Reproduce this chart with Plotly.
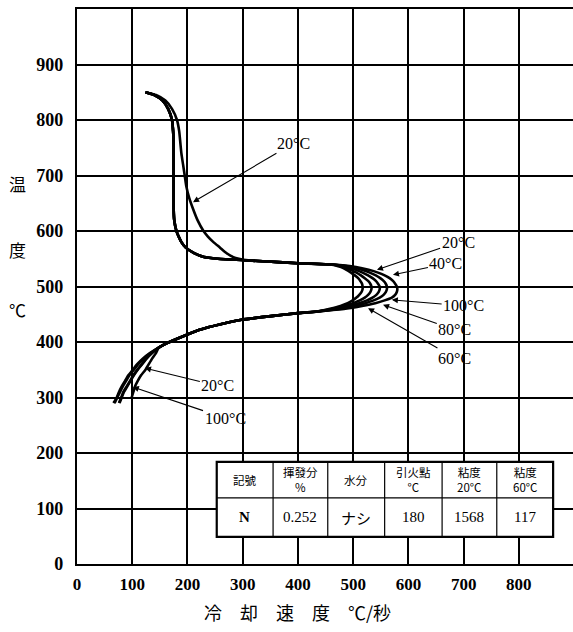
import plotly.graph_objects as go

# Cooling curves of a quenching oil at several bath temperatures.
# Each curve is traced as (temperature, cooling rate) pairs, temperature falling.

# Section 1: from 850 °C down to the break of the vapour film
upper_temp = [850, 845, 835, 820, 800, 780, 760, 740, 720, 700, 680, 660, 640,
              620, 600, 590, 580, 570, 560, 553, 550]
upper_rate_20 = [124, 143, 160, 172, 181, 185, 187, 189, 192, 195, 198, 203, 210,
                 218, 229, 237, 247, 259, 271, 283, 293]
upper_rate_hot = [124, 140, 155, 165, 172, 174, 175, 175, 175, 175, 175, 175, 175,
                  176, 180, 184, 189, 197, 212, 230, 255]

# Section 2: common run into the boiling stage
band_temp = [547, 545, 542, 540]
band_rate = [310, 345, 400, 450]

# Section 3: maximum cooling rate ("nose")
nose_temp = [538, 535, 530, 525, 520, 515, 510, 505, 500, 495, 490, 485, 480,
             475, 470, 465, 460]
nose_rate_20 = [468, 478, 488, 496, 503, 509, 513, 516, 517, 517, 515, 511, 506,
                499, 490, 477, 458]
nose_rate_40 = [472, 484, 496, 506, 514, 521, 527, 531, 533, 533, 531, 527, 521,
                512, 500, 484, 464]
nose_rate_60 = [475, 490, 505, 517, 527, 535, 541, 545, 548, 548, 546, 542, 535,
                525, 511, 493, 470]
nose_rate_80 = [478, 497, 516, 530, 541, 549, 555, 559, 561, 561, 559, 555, 548,
                537, 522, 503, 478]
nose_rate_100 = [481, 505, 528, 545, 557, 566, 572, 576, 579, 580, 579, 576, 570,
                 557, 540, 516, 486]

# Section 4: common falling branch
lower_temp = [455, 452, 447, 440, 432, 422, 413, 398, 390]
lower_rate = [435, 400, 355, 298, 260, 222, 199, 163, 148]

# Section 5: convection stage
tail_temp = [380, 370, 360, 350, 340, 330, 320, 310, 300, 290]
tail_rate_20 = [143, 136, 130, 124, 116, 110, 105, 102, 99, None]
tail_rate_40 = [136, 126, 118, 110, 103, 97, 91, 85, 81, 77]
tail_rate_60 = [135, 125, 117, 109, 102, 96, 90, 84, 80, 76]
tail_rate_80 = [133, 121, 111, 103, 95, 89, 83, 78, 73, 68]
tail_rate_100 = [132, 119, 109, 101, 93, 87, 81, 76, 72, 66]

bath_temps = ["20°C", "40°C", "60°C", "80°C", "100°C"]
upper_sets = [upper_rate_20, upper_rate_hot, upper_rate_hot, upper_rate_hot, upper_rate_hot]
nose_sets = [nose_rate_20, nose_rate_40, nose_rate_60, nose_rate_80, nose_rate_100]
tail_sets = [tail_rate_20, tail_rate_40, tail_rate_60, tail_rate_80, tail_rate_100]

# Oil properties table
table_header = ["記號", "揮發分<br>%", "水分", "引火點<br>°C", "粘度<br>20°C", "粘度<br>60°C"]
table_row = ["N", "0.252", "ナシ", "180", "1568", "117"]

x_ticks = [0, 100, 200, 300, 400, 500, 600, 700, 800]
y_ticks = [0, 100, 200, 300, 400, 500, 600, 700, 800, 900]

SERIF = "Liberation Serif"
CJK = "Noto Sans CJK JP"

fig = go.Figure()
temps_all = upper_temp + band_temp + nose_temp + lower_temp + tail_temp
for name, up, nose, tail in zip(bath_temps, upper_sets, nose_sets, tail_sets):
    rates = up + band_rate + nose + lower_rate + tail
    fig.add_trace(go.Scatter(
        x=rates, y=temps_all, mode="lines", name=name,
        line=dict(color="black", width=2.6, shape="spline", smoothing=0.5),
        showlegend=False, hoverinfo="skip",
    ))

# Curve labels with leader arrows: (text, text x, text y, tip x, tip y)
labels = [
    ("20°C", 392, 758, 210, 652),
    ("20°C", 690, 580, 543, 530),
    ("40°C", 668, 541, 572, 521),
    ("100°C", 700, 465, 570, 476),
    ("80°C", 684, 422, 554, 467),
    ("60°C", 684, 371, 527, 461),
    ("20°C", 255, 321, 123, 353),
    ("100°C", 268, 263, 101, 319),
]
for text, tx, ty, px, py in labels:
    fig.add_annotation(
        x=px, y=py, xref="x", yref="y", ax=tx, ay=ty, axref="x", ayref="y",
        text=text, showarrow=True, arrowhead=2, arrowsize=1.1, arrowwidth=1.1,
        arrowcolor="black", font=dict(family=SERIF, size=16, color="black"),
    )

# Table drawn inside the plot area
col_edges = [253, 355, 454, 557, 661, 760, 862]
row_edges = [184, 119, 49]
fig.add_shape(type="rect", xref="x", yref="y", x0=col_edges[0], x1=col_edges[-1],
              y0=row_edges[2], y1=row_edges[0], fillcolor="white",
              line=dict(color="black", width=2.2), layer="above")
fig.add_shape(type="line", xref="x", yref="y", x0=col_edges[0], x1=col_edges[-1],
              y0=row_edges[1], y1=row_edges[1], line=dict(color="black", width=1.2),
              layer="above")
for cx in col_edges[1:-1]:
    fig.add_shape(type="line", xref="x", yref="y", x0=cx, x1=cx,
                  y0=row_edges[2], y1=row_edges[0],
                  line=dict(color="black", width=1.2), layer="above")
for i, (h, v) in enumerate(zip(table_header, table_row)):
    cx = (col_edges[i] + col_edges[i + 1]) / 2
    fig.add_annotation(x=cx, y=(row_edges[0] + row_edges[1]) / 2, xref="x", yref="y",
                       text=h, showarrow=False, borderpad=0,
                       font=dict(family=CJK, size=11.5, color="black"))
    fig.add_annotation(x=cx, y=(row_edges[1] + row_edges[2]) / 2, xref="x", yref="y",
                       text=v, showarrow=False,
                       font=dict(family=CJK if i == 2 else SERIF, size=15,
                                 color="black", weight="bold" if i == 0 else "normal"))

# Axis titles
for ch, yp in [("温", 0.686), ("度", 0.566), ("℃", 0.458)]:
    fig.add_annotation(x=-0.119, y=yp, xref="paper", yref="paper", text=ch,
                       xanchor="center", yanchor="middle",
                       showarrow=False, font=dict(family=CJK, size=17, color="black"))
fig.add_annotation(x=0.444, y=-0.087, xref="paper", yref="paper",
                   text="冷　却　速　度　℃/秒", showarrow=False,
                   xanchor="center", yanchor="middle",
                   font=dict(family=CJK, size=18, color="black"))

fig.update_xaxes(
    range=[0, 898], tickvals=x_ticks, ticktext=[str(v) for v in x_ticks],
    showgrid=True, gridcolor="black", gridwidth=1.8, zeroline=False,
    showline=True, linecolor="black", linewidth=2.2, mirror=True,
    ticks="", ticklabelstandoff=3,
    tickfont=dict(family=SERIF, size=17, color="black", weight="bold"),
)
fig.update_yaxes(
    range=[0, 1000], tickvals=y_ticks, ticktext=[str(v) for v in y_ticks],
    showgrid=True, gridcolor="black", gridwidth=1.8, zeroline=False,
    showline=True, linecolor="black", linewidth=2.2, mirror=False,
    ticks="", ticklabelstandoff=8,
    tickfont=dict(family=SERIF, size=18, color="black", weight="bold"),
)
fig.update_layout(
    width=573, height=632,
    margin=dict(l=77, r=0, t=9, b=68),
    paper_bgcolor="white", plot_bgcolor="white",
    showlegend=False,
)

fig.write_html("out.html")
